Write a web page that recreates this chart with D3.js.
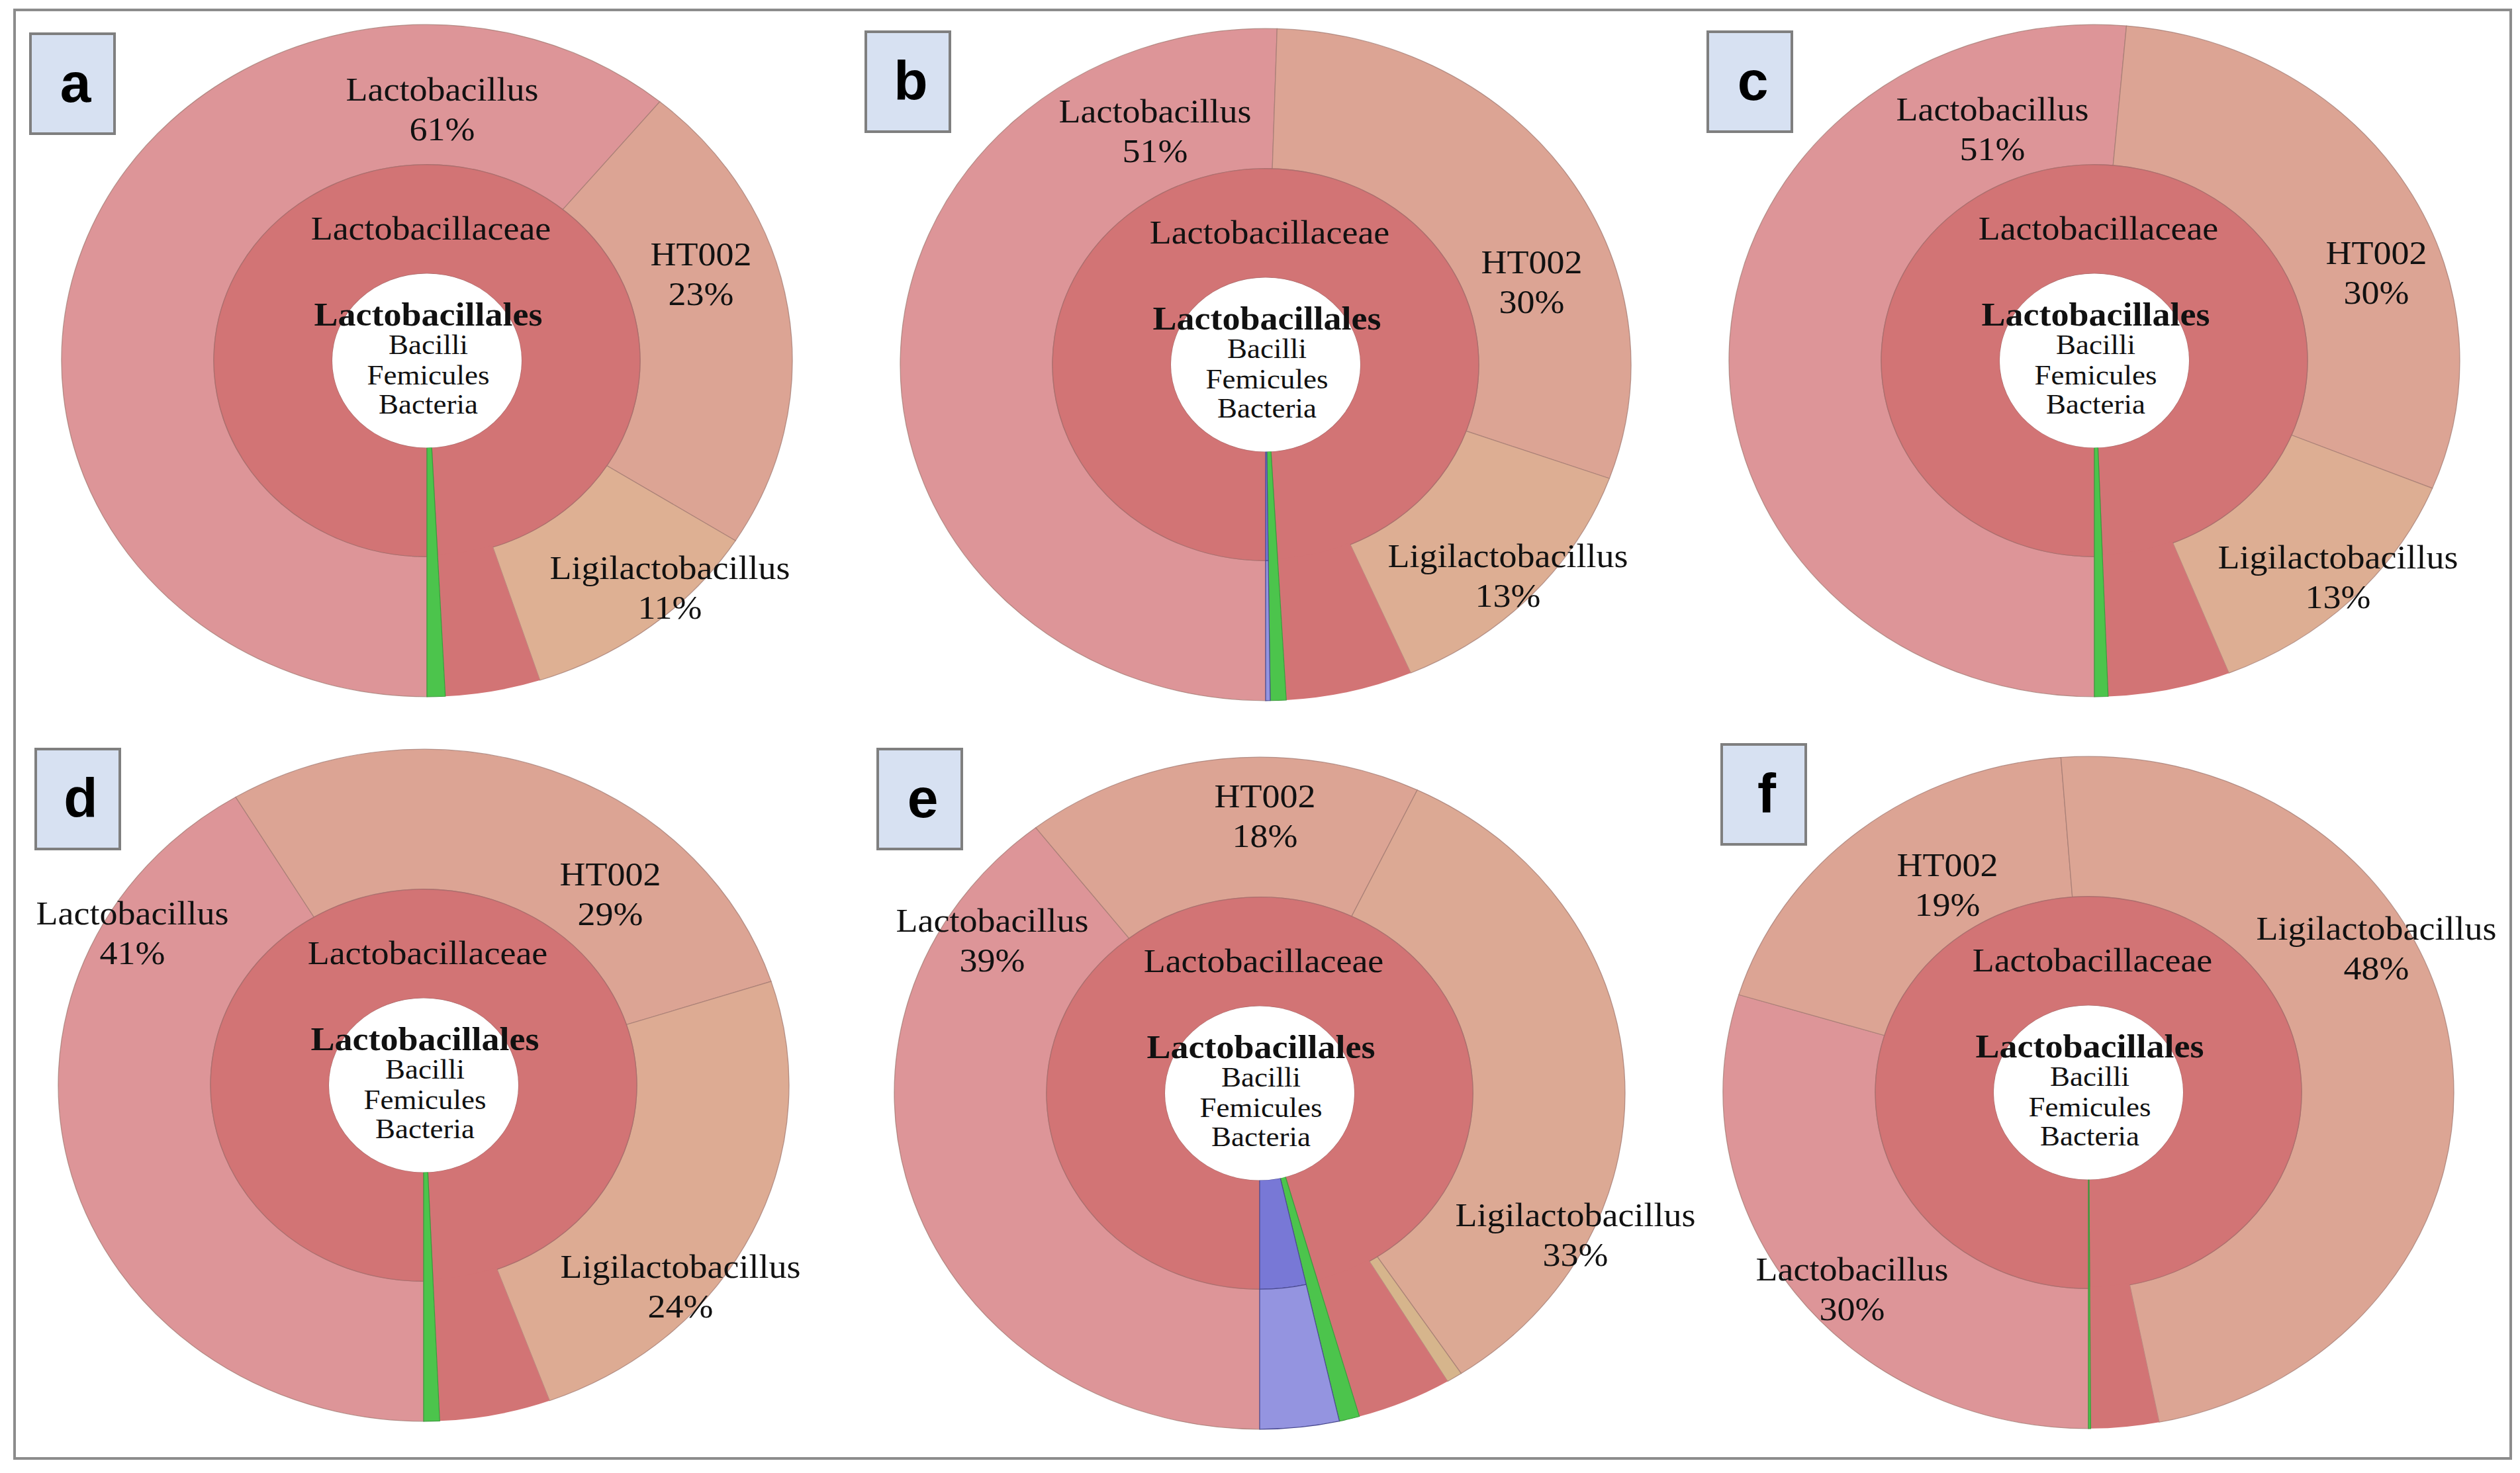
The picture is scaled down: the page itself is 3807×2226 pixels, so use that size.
<!DOCTYPE html>
<html>
<head>
<meta charset="utf-8">
<script src="https://cdn.jsdelivr.net/npm/d3@7"></script>
<style>
  body { margin: 0; background: #fff; }
  text { font-family: "Liberation Serif", "Times New Roman", serif; fill: #111; }
</style>
</head>
<body>
<svg id="fig"></svg>
<script>
// panel letters
const panels = ['a', 'b', 'c', 'd', 'e', 'f'];

// share of the whole circle (%) for each segment
const lactobacillus     = [61.0, 50.5, 51.4, 41.4, 39.5, 29.7];
const ht002             = [23.0, 30.0, 29.8, 28.6, 17.6, 19.1];
const ligilactobacillus = [11.0, 13.0, 12.8, 24.4, 33.6, 48.1];
const minorGenus        = [0.0, 0.0, 0.0, 0.0, 0.7, 0.0];
const otherLactobac     = [4.2, 5.6, 5.4, 4.9, 4.2, 3.0];
const greenFamily       = [0.8, 0.7, 0.6, 0.7, 0.9, 0.1];
const blueFamily        = [0.0, 0.2, 0.0, 0.0, 3.5, 0.0];

// printed labels
const lactoLabel = ['61%', '51%', '51%', '41%', '39%', '30%'];
const htLabel    = ['23%', '30%', '30%', '29%', '18%', '19%'];
const ligiLabel  = ['11%', '13%', '13%', '24%', '33%', '48%'];
const centreLines = ['Bacilli', 'Femicules', 'Bacteria'];

// layout
const W = 3807, H = 2226;
const centres = [[645, 545], [1912, 551], [3164, 545], [640, 1640], [1903, 1652], [3155, 1651]];
const boxes = [[46, 51], [1308, 48], [2580, 48], [54, 1132], [1326, 1132], [2601, 1125]];
const lactoPos = [[23, -380], [-167, -353], [-154, -350], [-440, -230], [-404, -231], [-357, 297]];
const htPos    = [[414, -131], [402, -125], [426, -133], [282, -289], [8, -419], [-213, -314]];
const ligiPos  = [[367, 343], [366, 319], [368, 327], [388, 304], [477, 214], [435, -218]];
const ligiTint = ['#deb093', '#ddae93', '#ddae93', '#ddab93', '#dca994', '#dca594'];
const squash = 0.92;
const R = 552, rMid = 322, rHole = 143;

const colors = {
  lacto: '#dd9598', ht: '#dca494', minor: '#d6b58c',
  family: '#d27475', green: '#4cc44c', blueOut: '#9494e0', blueIn: '#7878d6'
};

const svg = d3.select('#fig').attr('width', W).attr('height', H);

svg.append('rect')
  .attr('x', 22).attr('y', 15).attr('width', 3771).attr('height', 2189)
  .attr('fill', 'none').attr('stroke', '#8c8c8c').attr('stroke-width', 4);

const pie = d3.pie().sort(null).value(d => d)
  .startAngle(Math.PI).endAngle(3 * Math.PI);

const outerArc = d3.arc().innerRadius(rMid).outerRadius(R);
const innerArc = d3.arc().innerRadius(rHole).outerRadius(rMid);
const patchArc = d3.arc().innerRadius(rMid - 3).outerRadius(R);
const fullArc = d3.arc().innerRadius(rHole).outerRadius(R);

panels.forEach((p, i) => {
  const vals = [lactobacillus[i], ht002[i], ligilactobacillus[i], minorGenus[i],
    otherLactobac[i], greenFamily[i], blueFamily[i]];
  const outer = pie(vals);
  const famVals = [vals.slice(0, 5).reduce((a, b) => a + b, 0), greenFamily[i], blueFamily[i]];
  const inner = pie(famVals);

  const g = svg.append('g')
    .attr('transform', `translate(${centres[i][0]},${centres[i][1]}) scale(1,${squash})`);

  const genusFill = [colors.lacto, colors.ht, ligiTint[i], colors.minor];
  g.selectAll('path.genus')
    .data(outer.slice(0, 4).filter(d => d.value > 0))
    .join('path')
    .attr('class', 'genus')
    .attr('d', outerArc)
    .attr('fill', d => genusFill[d.index])
    .attr('stroke', '#a27a72').attr('stroke-opacity', 0.75).attr('stroke-width', 1.3);

  // family ring
  g.append('path').datum(inner[0])
    .attr('d', innerArc)
    .attr('fill', colors.family)
    .attr('stroke', '#a86a6a').attr('stroke-opacity', 0.8).attr('stroke-width', 1.4);

  // unassigned part of the family continues outward in family colour
  g.append('path').datum(outer[4])
    .attr('d', patchArc)
    .attr('fill', colors.family);

  if (greenFamily[i] > 0) {
    g.append('path').datum(inner[1])
      .attr('d', fullArc)
      .attr('fill', colors.green)
      .attr('stroke', '#3c9a3c').attr('stroke-width', 1.2);
  }
  if (blueFamily[i] > 0) {
    g.append('path').datum(inner[2])
      .attr('d', innerArc)
      .attr('fill', colors.blueIn)
      .attr('stroke', '#4a4a90').attr('stroke-width', 1.2);
    g.append('path').datum(outer[6])
      .attr('d', outerArc)
      .attr('fill', colors.blueOut)
      .attr('stroke', '#4a4a90').attr('stroke-width', 1.2);
  }

  g.append('circle').attr('r', rHole).attr('fill', '#fff');

  // labels
  const twoLine = (pos, name, pct) => {
    const t = g.append('text')
      .attr('text-anchor', 'middle')
      .attr('font-size', 54);
    t.append('tspan').attr('x', pos[0]).attr('y', (pos[1] - 30) / squash)
      .attr('dy', '0.35em').text(name);
    t.append('tspan').attr('x', pos[0]).attr('y', (pos[1] + 30) / squash)
      .attr('dy', '0.35em').text(pct);
  };
  twoLine(lactoPos[i], 'Lactobacillus', lactoLabel[i]);
  twoLine(htPos[i], 'HT002', htLabel[i]);
  twoLine(ligiPos[i], 'Ligilactobacillus', ligiLabel[i]);

  g.append('text')
    .attr('text-anchor', 'middle').attr('font-size', 54)
    .attr('x', 6).attr('y', -200 / squash).attr('dy', '0.35em')
    .text('Lactobacillaceae');

  g.append('text')
    .attr('text-anchor', 'middle').attr('font-size', 54).attr('font-weight', 'bold')
    .attr('x', 2).attr('y', -70 / squash).attr('dy', '0.35em')
    .text('Lactobacillales');

  centreLines.forEach((s, k) => {
    g.append('text')
      .attr('text-anchor', 'middle').attr('font-size', 45)
      .attr('x', 2).attr('y', (-24 + 45 * k) / squash).attr('dy', '0.35em')
      .text(s);
  });

  // panel letter box
  const b = svg.append('g').attr('transform', `translate(${boxes[i][0]},${boxes[i][1]})`);
  b.append('rect').attr('width', 127).attr('height', 151)
    .attr('fill', '#d7e1f2').attr('stroke', '#7f7f7f').attr('stroke-width', 4);
  b.append('text')
    .attr('x', 68).attr('y', 103)
    .attr('text-anchor', 'middle')
    .style('font-family', '"Liberation Sans", Arial, sans-serif')
    .style('font-weight', 'bold').style('font-size', '84px').style('fill', '#000')
    .text(p);
});
</script>
</body>
</html>
